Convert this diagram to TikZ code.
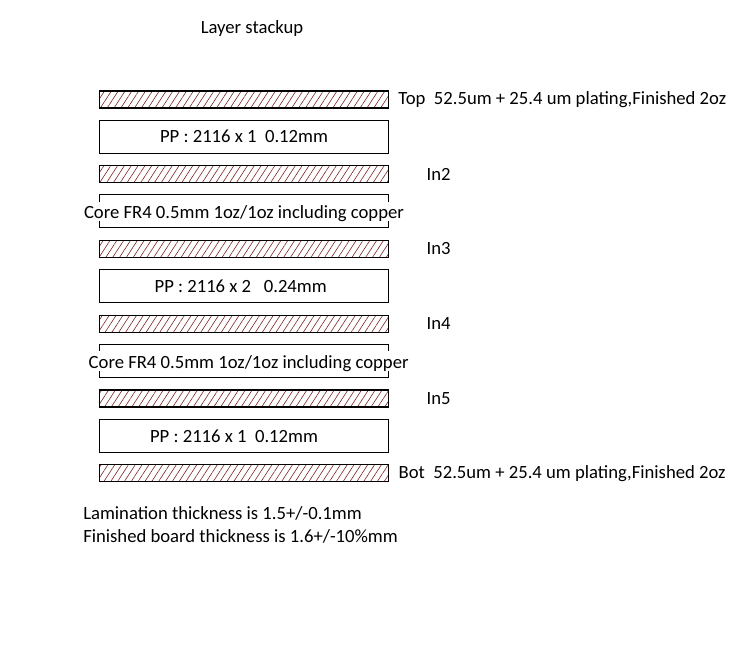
\documentclass[tikz,border=0pt]{standalone}
\usepackage{fontspec}
\setmainfont{Carlito}
\usetikzlibrary{positioning}
\usetikzlibrary{patterns.meta}
\definecolor{hatchred}{RGB}{125,35,35}

\begin{document}
\begin{tikzpicture}[x=0.75pt, y=-0.75pt, font=\fontsize{14}{17}\selectfont,
    node distance=8.5pt,
    copper/.style={draw, line width=0.8pt, inner sep=0pt, minimum width=216.75pt, minimum height=12.75pt,
        pattern={Lines[angle=57, distance=4.3pt, line width=0.45pt]}, pattern color=hatchred},
    dielectric/.style={draw, line width=0.8pt, inner sep=0pt, minimum width=216.75pt, minimum height=24.75pt},
    corelabel/.style={fill=white, inner sep=0.25pt, text height=12.25pt, text depth=1.75pt},
    layername/.style={inner sep=0pt}]
    \useasboundingbox (0,0) rectangle (745,652);

    \node (title) at (252,29) {Layer stackup};

    % layers, top to bottom
    \node[copper] (top) at (244,99.5) {};
    \node[dielectric, below=of top] (pp1) {};
    \node[copper, below=of pp1] (in2) {};
    \node[dielectric, below=of in2] (core1) {};
    \node[copper, below=of core1] (in3) {};
    \node[dielectric, below=of in3] (pp2) {};
    \node[copper, below=of pp2] (in4) {};
    \node[dielectric, below=of in4] (core2) {};
    \node[copper, below=of core2] (in5) {};
    \node[dielectric, below=of in5] (pp3) {};
    \node[copper, below=of pp3] (bot) {};

    % dielectric texts
    \node (pp1txt) at (pp1) {PP : 2116 x 1~ 0.12mm};
    \node[corelabel] (core1txt) at (core1) {Core FR4 0.5mm 1oz/1oz including copper};
    \node[xshift=-2.5pt] (pp2txt) at (pp2) {PP : 2116 x 2~~ 0.24mm};
    \node[corelabel, xshift=3.5pt] (core2txt) at (core2) {Core FR4 0.5mm 1oz/1oz including copper};
    \node[xshift=-7.5pt] (pp3txt) at (pp3) {PP : 2116 x 1~ 0.12mm};

    % copper names
    \node[layername, right=7pt of top] (toplbl) {Top~ 52.5um + 25.4 um plating,Finished 2oz};
    \node[layername, right=28pt of in2] (in2lbl) {In2};
    \node[layername, right=28pt of in3] (in3lbl) {In3};
    \node[layername, right=28pt of in4] (in4lbl) {In4};
    \node[layername, right=28pt of in5] (in5lbl) {In5};
    \node[layername, right=7pt of bot] (botlbl) {Bot~ 52.5um + 25.4 um plating,Finished 2oz};

    \node[anchor=base west, inner sep=0pt] (lam) at (83,519) {Lamination thickness is 1.5+/-0.1mm};
    \node[anchor=base west, inner sep=0pt] (fin) at (83,542) {Finished board thickness is 1.6+/-10\%mm};
\end{tikzpicture}
\end{document}
